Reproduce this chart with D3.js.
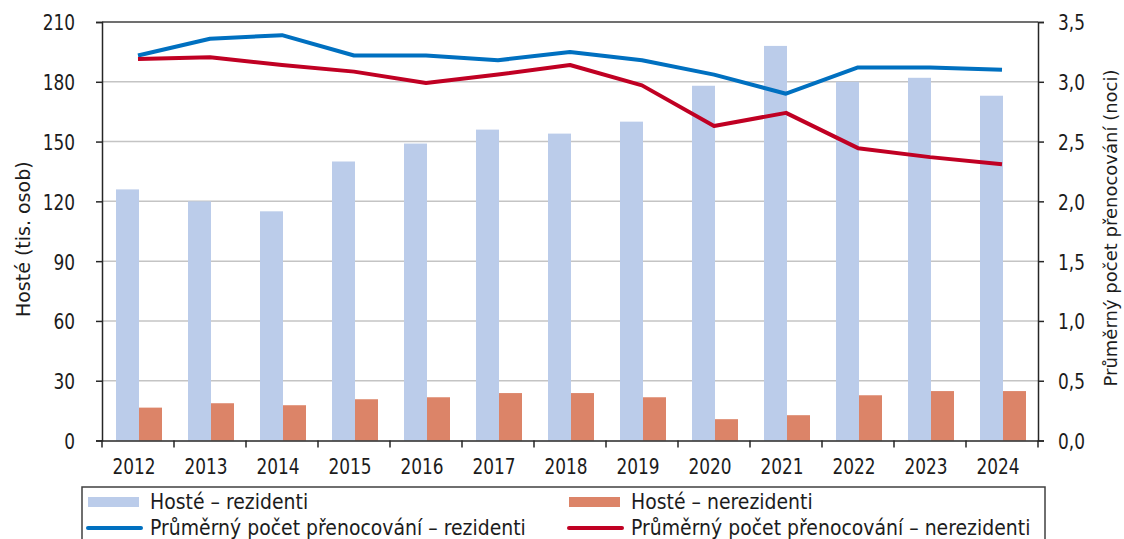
<!DOCTYPE html>
<html><head><meta charset="utf-8">
<script src="https://cdn.jsdelivr.net/npm/d3@7"></script>
<style>body{margin:0;background:#fff}svg{display:block}text{font-family:"DejaVu Sans",Verdana,sans-serif;fill:#1c1c1c}</style>
</head><body><svg id="c" width="1124" height="539"></svg>
<script>
const years = ["2012","2013","2014","2015","2016","2017","2018","2019","2020","2021","2022","2023","2024"];
const guestsRes = [126,120,115,140,149,156,154,160,178,198,180,182,173];
const guestsNonRes = [16.5,18.7,17.7,20.7,21.7,23.8,23.8,21.7,10.7,12.7,22.7,24.8,24.8];
const nightsRes = [3.22,3.36,3.39,3.22,3.22,3.18,3.25,3.18,3.06,2.90,3.12,3.12,3.10];
const nightsNonRes = [3.19,3.205,3.14,3.085,2.99,3.06,3.14,2.97,2.63,2.74,2.445,2.37,2.31];
const leftTicks = [0,30,60,90,120,150,180,210];
const rightTicks = [0,0.5,1,1.5,2,2.5,3,3.5];
const seriesNames = ["Hosté – rezidenti","Hosté – nerezidenti","Průměrný počet přenocování – rezidenti","Průměrný počet přenocování – nerezidenti"];
const colors = {res:"#BBCCEA", nonres:"#DC8468", lineRes:"#0070C0", lineNon:"#C00023"};

const svg = d3.select("#c");
const L=102, R=1038, T=22, B=440.5;
const x = d3.scaleBand().domain(years).range([L,R]).padding(0);
const x1 = d3.scaleBand().domain(["res","nonres"]).range([14,60]).padding(0);
const y = d3.scaleLinear().domain([0,210]).range([B,T]);
const y2 = d3.scaleLinear().domain([0,3.5]).range([B,T]);

// gridlines
svg.append("g").selectAll("line").data(leftTicks.filter(d=>d>0&&d<210)).join("line")
  .attr("x1",L).attr("x2",R).attr("y1",d=>y(d)).attr("y2",d=>y(d))
  .attr("stroke","#c4c4c4").attr("stroke-width",1.5);

// bars
const g = svg.append("g");
g.selectAll("rect.r").data(years).join("rect").attr("class","r")
  .attr("x",d=>x(d)+x1("res")).attr("width",x1.bandwidth())
  .attr("y",(d,i)=>y(guestsRes[i])).attr("height",(d,i)=>y(0)-y(guestsRes[i]))
  .attr("fill",colors.res);
g.selectAll("rect.n").data(years).join("rect").attr("class","n")
  .attr("x",d=>x(d)+x1("nonres")).attr("width",x1.bandwidth())
  .attr("y",(d,i)=>y(guestsNonRes[i])).attr("height",(d,i)=>y(0)-y(guestsNonRes[i]))
  .attr("fill",colors.nonres);

// lines
const line = d3.line().x((d,i)=>x(years[i])+x.bandwidth()/2).y(d=>y2(d));
svg.append("path").datum(nightsRes).attr("d",line).attr("fill","none")
  .attr("stroke",colors.lineRes).attr("stroke-width",4).attr("stroke-linejoin","round");
svg.append("path").datum(nightsNonRes).attr("d",line).attr("fill","none")
  .attr("stroke",colors.lineNon).attr("stroke-width",4).attr("stroke-linejoin","round");

// top border
svg.append("line").attr("x1",L).attr("x2",R).attr("y1",T).attr("y2",T)
  .attr("stroke","#404040").attr("stroke-width",1.5);

function styleTicks(sel, dx, anchor){
  sel.selectAll("path.domain").attr("stroke","#262626").attr("stroke-width",1.5);
  sel.selectAll(".tick line").attr("stroke","#262626").attr("stroke-width",1.5);
  sel.selectAll(".tick text").attr("font-family","DejaVu Sans").attr("font-size",22)
    .attr("fill","#1c1c1c").attr("text-anchor",anchor)
    .attr("x",0).attr("dy","0.36em")
    .attr("transform",`translate(${dx},0) scale(0.77,1)`);
}
// left axis
const ga = svg.append("g").attr("transform",`translate(${L},0)`)
  .call(d3.axisLeft(y).tickValues(leftTicks).tickSize(6).tickSizeOuter(6));
styleTicks(ga,-27,"end");
// right axis
const gr = svg.append("g").attr("transform",`translate(${R},0)`)
  .call(d3.axisRight(y2).tickValues(rightTicks).tickSize(6).tickSizeOuter(6)
    .tickFormat(d=>d3.format(".1f")(d).replace(".",",")));
styleTicks(gr,20,"start");
// bottom axis
const gb = svg.append("g").attr("transform",`translate(0,${B})`)
  .call(d3.axisBottom(x).tickSize(0).tickSizeOuter(0));
gb.selectAll("path.domain").attr("stroke","#262626").attr("stroke-width",1.5);
gb.selectAll(".tick text").attr("font-family","DejaVu Sans").attr("font-size",22).attr("fill","#1c1c1c")
  .attr("y",0).attr("x",0).attr("dy","0")
  .attr("transform","translate(-4,33) scale(0.77,1)");
const bounds = years.map(d=>x(d)).concat([x.range()[1]]);
gb.selectAll("line.b").data(bounds).join("line").attr("class","b")
  .attr("x1",d=>d).attr("x2",d=>d).attr("y1",0).attr("y2",7)
  .attr("stroke","#262626").attr("stroke-width",1.5);

// axis titles
svg.append("text").attr("transform",`translate(23,${(T+B)/2+8}) rotate(-90)`)
  .attr("text-anchor","middle").attr("dy","0.35em").attr("font-size",19).text("Hosté (tis. osob)");
svg.append("text").attr("transform",`translate(1111,228) rotate(-90)`)
  .attr("text-anchor","middle").attr("dy","0.35em").attr("font-size",18).text("Průměrný počet přenocování (noci)");

// legend
const lg = svg.append("g");
lg.append("rect").attr("x",82).attr("y",487).attr("width",963).attr("height",70)
  .attr("fill","#fff").attr("stroke","#404040").attr("stroke-width",1.5);
const items = [
  {name:seriesNames[0], type:"rect", color:colors.res, cx:88, cy:502},
  {name:seriesNames[1], type:"rect", color:colors.nonres, cx:569, cy:502},
  {name:seriesNames[2], type:"line", color:colors.lineRes, cx:88, cy:528},
  {name:seriesNames[3], type:"line", color:colors.lineNon, cx:569, cy:528}
];
items.forEach(it=>{
  if(it.type==="rect") lg.append("rect").attr("x",it.cx).attr("y",it.cy-5).attr("width",51).attr("height",10).attr("fill",it.color);
  else lg.append("line").attr("x1",it.cx).attr("x2",it.cx+53).attr("y1",it.cy).attr("y2",it.cy)
    .attr("stroke",it.color).attr("stroke-width",4).attr("stroke-linecap","round");
  lg.append("text").attr("transform",`translate(${it.cx+62},${it.cy}) scale(0.92,1)`)
    .attr("dy","0.35em").attr("font-size",20.5).text(it.name);
});
</script></body></html>
